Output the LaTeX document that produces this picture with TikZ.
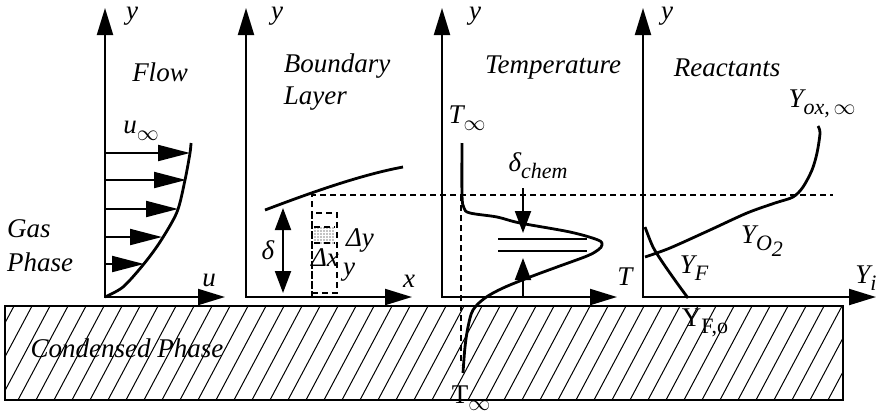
\documentclass[tikz,border=0pt]{standalone}
\usepackage{fontspec}
\setmainfont{Liberation Serif}
\usetikzlibrary{arrows.meta, patterns.meta, math}

\tikzset{
  axisarrow/.style={line width=1pt, {Triangle[length=13.5pt,width=8pt]}-{Triangle[length=13.5pt,width=8pt]}},
  flowarrow/.style={line width=1pt, -{Triangle[length=16pt,width=8pt]}},
  gaparrow/.style={line width=1pt, -{Triangle[length=11pt,width=8pt]}},
  bothgap/.style={line width=1pt, {Triangle[length=11pt,width=8pt]}-{Triangle[length=11pt,width=8pt]}},
  curve/.style={line width=1.4pt},
  guide/.style={line width=1pt, dash pattern=on 3pt off 2pt},
  txt/.style={font=\fontsize{13.5}{16}\selectfont\itshape, inner sep=0pt},
  uptxt/.style={font=\fontsize{13.5}{16}\selectfont, inner sep=0pt},
}
\newcommand{\lowsub}[1]{\raisebox{-0.55ex}{\fontsize{11}{13}\selectfont #1}}

\begin{document}
\begin{tikzpicture}[x=0.5pt, y=-0.5pt]
\tikzmath{
\B=297;
}
\useasboundingbox (0,0) rectangle (878,414);

% condensed phase
\begin{scope}
\clip (5,306) rectangle (843,400);
\foreach \i in {-3,...,47} \draw[line width=0.5pt] (\i*18,400) -- ++(50,-94);
\end{scope}
\draw[line width=1pt] (5,306) rectangle (843,400);
\node[txt] (cond) at (127,348) {Condensed Phase};

% axes
\foreach \ox/\xe/\n in {105/225/1, 246/412/2, 442/617/3, 643/876/4} {
  \coordinate (top\n) at (\ox,8);
  \coordinate (O\n) at (\ox,\B);
  \coordinate (end\n) at (\xe,\B);
  \draw[axisarrow] (top\n) -- (O\n) -- (end\n);
}
\foreach \xl/\n in {132/1, 277/2, 475/3, 667/4}
  \node[txt] (ylab\n) at (\xl,16) {y};

% flow
\node[txt] (flow) at (160,72) {Flow};
\node[txt, align=left] (gas) at (40,246) {Gas\\[1pt]Phase};
\node[txt] (uinf) at (141,131) {u\lowsub{$\infty$}};
\node[txt] (ulab) at (209,280) {u};
\foreach \yy/\xx in {153/190, 180/186, 209/178, 237/162, 264/144}
  \draw[flowarrow] (105,\yy) -- (\xx,\yy);
\draw[curve] plot[smooth] coordinates {(105,297) (123,287) (143,265) (160,242) (177,212) (185,180) (190,153) (191,143)};

% boundary layer
\node[txt, align=left] (bl) at (337,82) {Boundary\\Layer};
\node[txt] (xlab) at (409,281) {x};
\draw[curve] (265,210) .. controls (310,193) and (360,175) .. (403,167);
\coordinate (dtop) at (283,208);
\coordinate (dbot) at (283,293);
\draw[bothgap] (dtop) -- (dbot);
\node[txt] (delta) at (268,250) {δ};
\draw[guide] (312,\B) -- (312,195) -- (833,195);
\draw[guide] (312,213) rectangle (337,293);
\fill[pattern={Dots[distance=1.5pt,radius=0.35pt]}] (314,227) rectangle (335,243);
\draw[guide, line width=0.7pt] (314,227) -- (335,227) (314,243) -- (335,243);
\node[txt] (dy) at (360,240) {Δy};
\node[txt] (dx) at (325,258) {Δx};
\node[txt] (ysmall) at (349,272) {y};

% temperature
\node[txt] (temp) at (553,68) {Temperature};
\node[txt] (Tlab) at (625,277) {T};
\node[txt] (Tinf) at (467,118) {T\lowsub{$\infty$}};
\node[uptxt] (Tinfc) at (471,398) {T\lowsub{$\infty$}};
\draw[guide] (461,195) -- (461,365);
\draw[curve] plot[smooth, tension=0.55] coordinates {(462,143) (462,195) (464,208) (470,213) (497,217) (520,223) (570,232) (598,240) (602,245) (598,250) (587,256) (557,267) (530,277) (503,288) (485,298) (473,310) (468,327) (465,347) (463,373)};
\draw[curve] (498,239) -- (587,239);
\draw[curve] (498,251) -- (587,251);
\node[txt] (dchem) at (538,166) {δ\lowsub{chem}};
\coordinate (chemA) at (523,188);
\coordinate (chemB) at (523,233);
\coordinate (chemC) at (523,258);
\draw[gaparrow] (chemA) -- (chemB);
\draw[gaparrow] (523,\B) -- (chemC);

% reactants
\node[txt] (react) at (727,68) {Reactants};
\node[txt] (Yi) at (866,278) {Y\lowsub{i}};
\node[txt] (Yox) at (822,104) {Y\lowsub{ox,$\,\infty$}};
\node[txt] (YO) at (762,241) {Y\lowsub{O\lowsub{2}}};
\node[txt] (YF) at (694,268) {Y\lowsub{F}};
\node[uptxt] (YFo) at (705,323) {Y\lowsub{F,o}};
\draw[curve] plot[smooth] coordinates {(645,257) (670,248) (710,230) (747,213) (775,203) (793,197) (803,187) (812,170) (817,153) (820,133) (818,126)};
\draw[curve] plot[smooth] coordinates {(645,227) (653,247) (663,263) (677,283) (688,298)};

\end{tikzpicture}
\end{document}
